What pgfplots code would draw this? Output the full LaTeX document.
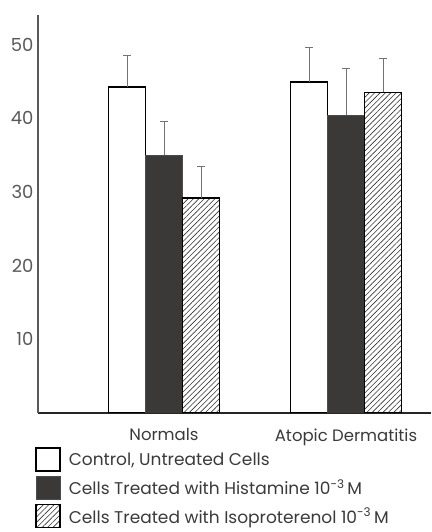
\documentclass[border=0pt]{standalone}
\usepackage{fontspec}
\setmainfont{Poppins}
\usepackage{pgfplots}
\pgfplotsset{compat=1.18}
\usetikzlibrary{patterns.meta}
\definecolor{txt}{HTML}{3A3A3A}
\definecolor{hist}{HTML}{3B3937}
\definecolor{histleg}{HTML}{555555}

\begin{document}
\begin{tikzpicture}[x=1pt,y=1pt]
\useasboundingbox (0,0) rectangle (431,532);
\begin{axis}[
    at={(38pt,119pt)}, anchor=south west,
    scale only axis, width=393pt, height=398pt,
    xmin=38, xmax=431, ymin=0, ymax=54,
    axis lines=left,
    x axis line style={-, color=black!85, line width=1.8pt},
    y axis line style={-, color=black!65, line width=2.4pt},
    ybar=0pt, bar width=37,
    xtick={164,346},
    xticklabels={Normals, Atopic Dermatitis},
    ytick={10,20,30,40,50},
    major tick length=0pt,
    /pgf/number format/assume math mode=true,
    tick label style={font=\fontsize{16.5}{18}\selectfont, text=txt},
    yticklabel style={font=\fontsize{18}{20}\selectfont, text=black!65, xshift=-1pt},
    xticklabel style={yshift=-12pt},
    legend image code/.code={\draw[#1] (0pt,-11pt) rectangle (24pt,12pt); \path (32pt,0pt);},
    legend style={at={(rel axis cs:0,0)}, anchor=north west,
        xshift=-3pt, yshift=-34pt, draw=none, fill=none, inner sep=0pt,
        row sep=4pt, font=\fontsize{17}{18}\selectfont,
        nodes={inner sep=0pt, text=txt}},
    legend cell align=left,
    error bars/y dir=plus, error bars/y explicit,
    error bars/error bar style={color=black!55, line width=0.8pt},
    error bars/error mark options={rotate=90, mark size=4pt, color=black!55, line width=0.8pt},
]
\addplot[fill=white, draw=black, line width=1.6pt]
    coordinates {(164,44.2) +- (0,4.3) (346,44.9) +- (0,4.7)};
\addplot[fill=hist, draw=black!70, line width=0.8pt]
    coordinates {(164,35.0) +- (0,4.5) (346,40.4) +- (0,6.4)};
\addplot[pattern={Lines[angle=45, distance=3.8pt, line width=0.6pt]}, pattern color=black!80, draw=black, line width=1.5pt]
    coordinates {(164,29.2) +- (0,4.3) (346,43.5) +- (0,4.6)};
\legend{{Control, Untreated Cells}, {Cells Treated with Histamine 10\textsuperscript{-3}\,M}, {Cells Treated with Isoproterenol 10\textsuperscript{-3}\,M}}
\end{axis}
\end{tikzpicture}
\end{document}
